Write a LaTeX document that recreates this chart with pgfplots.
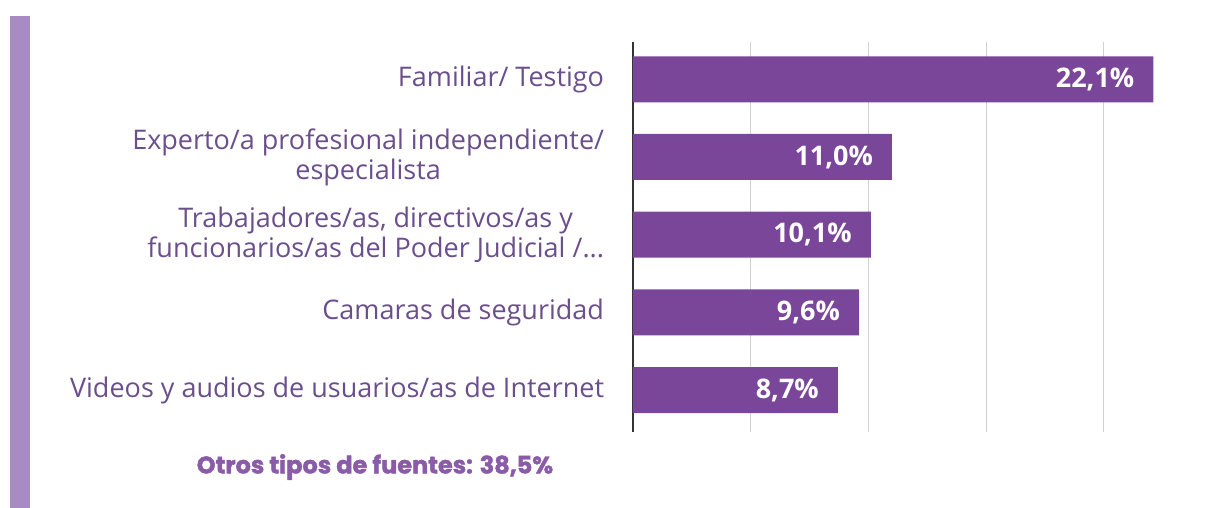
\documentclass[border=0pt]{standalone}
\usepackage{pgfplots}
\pgfplotsset{compat=1.18}
\usepackage{fontspec}
\setmainfont{Open Sans}
\newfontfamily\heavyfont{Poppins}[BoldFeatures={FakeBold=1.8}]
\definecolor{barpurple}{HTML}{7A4699}
\definecolor{labelpurple}{HTML}{6B4E8C}
\definecolor{stripe}{HTML}{A98BC4}
\definecolor{otros}{HTML}{8A5CA8}

\begin{document}
\begin{tikzpicture}[x=1pt,y=1pt]
% picture frame: 1211x508 px at 0.5pt per px, axis corner at (0,0)
\path[use as bounding box] (-316.5,-38) rectangle (289,216);
\fill[stripe] (-311.5,-38) rectangle (-301.5,208);
\begin{axis}[
    at={(0,0)}, anchor=south west,
    scale only axis,
    width=289pt, height=195pt,
    xbar,
    bar width=23pt,
    xmin=0, xmax=24.55,
    ymin=-0.48, ymax=4.54,
    y dir=reverse,
    axis y line*=left,
    x axis line style={draw=none},
    y axis line style={draw=black!80, line width=1.4pt},
    xtick={5,10,15,20}, xticklabels={},
    xmajorgrids,
    grid style={black!18, line width=0.6pt},
    ytick={0,1,2,3,4},
    yticklabels={
      {Familiar/ Testigo},
      {Experto/a profesional independiente/\\especialista},
      {Trabajadores/as, directivos/as y\\funcionarios/as del Poder Judicial /.\kern0pt.\kern0pt.},
      {Camaras de seguridad},
      {Videos y audios de usuarios/as de Internet}},
    yticklabel style={align=center, font=\fontsize{13.5}{15}\selectfont, text=labelpurple, inner sep=0pt, xshift=-10pt},
    tick style={draw=none},
    /pgf/number format/assume math mode=true,
    nodes near coords={\pgfmathprintnumber[fixed,fixed zerofill,precision=1,use comma]{\pgfplotspointmeta}\%},
    nodes near coords style={anchor=east, xshift=-6pt, text=white, font=\fontsize{13.5}{15}\selectfont\bfseries},
    clip=false,
]
\addplot[fill=barpurple, draw=none] coordinates {
  (22.1,0) (11.0,1) (10.1,2) (9.6,3) (8.7,4)};
\end{axis}
\node[text=otros, font=\heavyfont\fontsize{12}{14}\selectfont\bfseries] at (-129,-17.5) {Otros tipos de fuentes: 38,5\%};
\end{tikzpicture}
\end{document}
